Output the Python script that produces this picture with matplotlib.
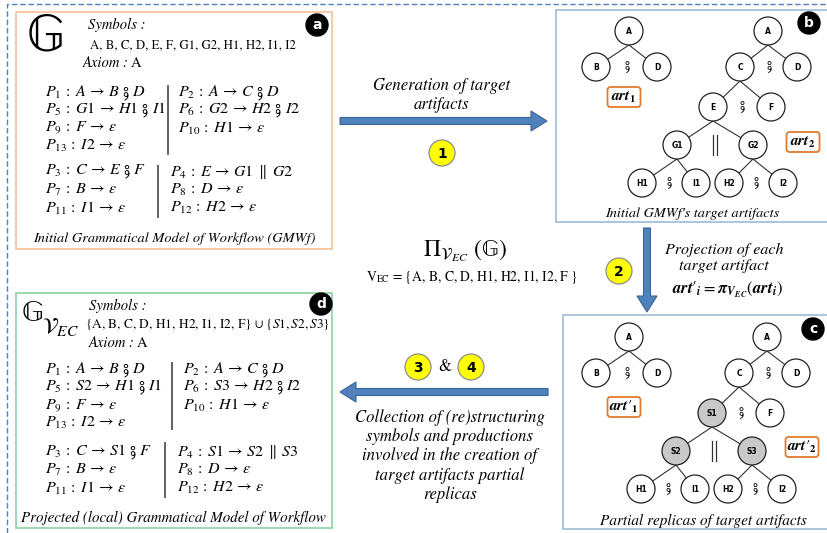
import matplotlib

matplotlib.use("Agg")

import matplotlib.pyplot as plt
from matplotlib.font_manager import FontProperties, findfont
from matplotlib.ft2font import FT2Font
from matplotlib.patches import Circle, FancyArrow, FancyBboxPatch, Rectangle

plt.rcParams["mathtext.fontset"] = "stix"
plt.rcParams["font.family"] = ["STIXGeneral", "DejaVu Sans"]


def has_glyph(family: str, ch: str) -> bool:
    path = findfont(FontProperties(family=family), fallback_to_default=False)
    return FT2Font(path).get_char_index(ord(ch)) != 0


SEQ = "\u2a1f" if has_glyph("STIXGeneral", "\u2a1f") else ";"
BBG = "\U0001D53E"  # double-struck G
PRIME = "\u2032"

# ---- content -------------------------------------------------------------
SYMBOLS_G = "A, B, C, D, E, F, G1, G2, H1, H2, I1, I2"
SYMBOLS_PROJ = r"{A, B, C, D, H1, H2, I1, I2, F} $\cup$ {$S1, S2, S3$}"
V_EC = r"$\mathrm{V}_{\mathrm{EC}}$ = {A, B, C, D, H1, H2, I1, I2, F }"

# productions: (index, left side, right side)
PROD_G_TL = [(1, "A", "B ; D"), (5, "G1", "H1 ; I1"), (9, "F", "eps"), (13, "I2", "eps")]
PROD_G_TR = [(2, "A", "C ; D"), (6, "G2", "H2 ; I2"), (10, "H1", "eps")]
PROD_G_BL = [(3, "C", "E ; F"), (7, "B", "eps"), (11, "I1", "eps")]
PROD_G_BR = [(4, "E", "G1 || G2"), (8, "D", "eps"), (12, "H2", "eps")]

PROD_P_TL = [(1, "A", "B ; D"), (5, "S2", "H1 ; I1"), (9, "F", "eps"), (13, "I2", "eps")]
PROD_P_TR = [(2, "A", "C ; D"), (6, "S3", "H2 ; I2"), (10, "H1", "eps")]
PROD_P_BL = [(3, "C", "S1 ; F"), (7, "B", "eps"), (11, "I1", "eps")]
PROD_P_BR = [(4, "S1", "S2 || S3"), (8, "D", "eps"), (12, "H2", "eps")]

# trees: (node, parent, operator joining its children)
ART1 = [("A", None, "seq"), ("B", "A", None), ("D", "A", None)]
ART2 = [
    ("A", None, "seq"), ("C", "A", "seq"), ("D", "A", None),
    ("E", "C", "par"), ("F", "C", None),
    ("G1", "E", "seq"), ("G2", "E", "seq"),
    ("H1", "G1", None), ("I1", "G1", None), ("H2", "G2", None), ("I2", "G2", None),
]
ART2_PROJ = [
    ("A", None, "seq"), ("C", "A", "seq"), ("D", "A", None),
    ("S1", "C", "par"), ("F", "C", None),
    ("S2", "S1", "seq"), ("S3", "S1", "seq"),
    ("H1", "S2", None), ("I1", "S2", None), ("H2", "S3", None), ("I2", "S3", None),
]
SHADED = {"S1", "S2", "S3"}

# ---- layout (pixels) -----------------------------------------------------
POS_ART1 = [(629, 31), (596, 67), (657, 67)]
POS_ART2 = [(768, 31), (740, 67), (797, 67), (713, 107), (771, 107),
            (677, 145), (753, 145), (642, 183), (696, 183), (729, 183), (783, 183)]
NODE_R = 14
BLUE = "#4f81bd"
BLUE_EDGE = "#3b6596"
SERIF = ["STIXGeneral", "DejaVu Sans"]
SANS = "DejaVu Sans"


def prod_tex(i, lhs, rhs):
    rhs = rhs.replace(" ; ", r"\;" + SEQ + r"\;").replace(" || ", r"\;\parallel\;")
    rhs = rhs.replace("eps", r"\varepsilon")
    return rf"$P_{{{i}}}\,:\;{lhs}\,\rightarrow\,{rhs}$"


def draw_prods(ax, prods, x, y0, dy, size=11.5):
    for k, (i, lhs, rhs) in enumerate(prods):
        ax.text(x, y0 + k * dy, prod_tex(i, lhs, rhs), fontsize=size, va="center", ha="left")


def vline(ax, x, y0, y1):
    ax.plot([x, x], [y0, y1], color="#555555", lw=1.3, solid_capstyle="butt")


def tag(ax, x, y, letter):
    ax.add_patch(Circle((x, y), 11, fc="black", ec="black", zorder=5))
    ax.text(x, y, letter, color="white", fontsize=10, fontweight="bold",
            family=SANS, ha="center", va="center", zorder=6)


def step(ax, x, y, num):
    ax.add_patch(Circle((x, y), 13, fc="#ffff00", ec="#8c8c8c", lw=0.9, zorder=5))
    ax.text(x, y + 0.5, num, fontsize=10, fontweight="bold", family=SANS,
            ha="center", va="center", zorder=6)


def art_box(ax, x, y, tex):
    ax.add_patch(FancyBboxPatch((x - 16.5, y - 10), 33, 20,
                                boxstyle="round,pad=0,rounding_size=3",
                                fc="white", ec="#e07a2e", lw=1.3, zorder=4))
    ax.text(x, y, tex, fontsize=11, ha="center", va="center", zorder=5)


def draw_tree(ax, nodes, pos, dx=0, dy=0):
    xy = {n: (x + dx, y + dy) for (n, _, _), (x, y) in zip(nodes, pos)}
    for n, parent, _ in nodes:
        if parent is None:
            continue
        px, py = xy[parent]
        cx, cy = xy[n]
        ax.plot([px, cx], [py + NODE_R, cy], color="#333333", lw=0.8, zorder=2)
    for n, parent, op in nodes:
        x, y = xy[n]
        fc = "#c9c9c9" if n in SHADED else "white"
        ax.add_patch(Circle((x, y), NODE_R, fc=fc, ec="#222222", lw=0.9, zorder=3))
        ax.text(x, y, n, fontsize=5.5, fontweight="bold", family=SANS,
                ha="center", va="center", zorder=4)
        kids = [xy[k] for k, p, _ in nodes if p == n]
        if op is None or len(kids) != 2:
            continue
        mx = (kids[0][0] + kids[1][0]) / 2
        my = (kids[0][1] + kids[1][1]) / 2
        if op == "seq":
            ax.text(mx, my, SEQ, fontsize=10, family=SERIF, ha="center", va="center", zorder=4)
        else:
            for off in (-2, 2):
                ax.plot([mx + off, mx + off], [my - 10, my + 10], color="#333333", lw=0.9)


fig = plt.figure(figsize=(8.27, 5.33), dpi=100)
ax = fig.add_axes([0, 0, 1, 1])
ax.set_xlim(0, 827)
ax.set_ylim(533, 0)
ax.axis("off")

# outer dashed frame
ax.plot([7, 7, 827], [533, 4, 4], color=BLUE, lw=1.0, linestyle=(0, (4, 2)))

# ---- panel a ---------------------------------------------------------------
ax.add_patch(Rectangle((16, 12), 316, 237, fc="white", ec="#f2c29b", lw=1.2))
tag(ax, 317, 25, "a")
ax.text(45, 38, BBG, fontsize=38, family=SERIF, ha="center", va="center")
ax.text(88, 25, "Symbols :", fontsize=10.5, style="italic", va="center")
ax.text(90, 45, SYMBOLS_G, fontsize=9.2, va="center")
ax.text(83, 63, "Axiom :", fontsize=10.5, style="italic", va="center")
ax.text(131, 63, "A", fontsize=10.5, va="center")
draw_prods(ax, PROD_G_TL, 45, 93, 17.5)
draw_prods(ax, PROD_G_TR, 178, 93, 17.5)
vline(ax, 168, 85, 155)
draw_prods(ax, PROD_G_BL, 45, 172, 18)
draw_prods(ax, PROD_G_BR, 170, 172, 18)
vline(ax, 158, 165, 218)
ax.text(174, 239, "Initial Grammatical Model of Workflow (GMWf)", fontsize=10.4,
        style="italic", ha="center", va="center")

# ---- panel d ---------------------------------------------------------------
ax.add_patch(Rectangle((16, 293), 316, 235, fc="white", ec="#86d4a6", lw=1.2))
tag(ax, 321, 304, "d")
ax.text(32, 314, BBG, fontsize=22, family=SERIF, ha="center", va="center")
ax.text(42, 327, r"$\mathcal{V}_{EC}$", fontsize=16, ha="left", va="center")
ax.text(89, 306, "Symbols :", fontsize=10.5, style="italic", va="center")
ax.text(85, 324, SYMBOLS_PROJ, fontsize=9.6, va="center")
ax.text(89, 343, "Axiom :", fontsize=10.5, style="italic", va="center")
ax.text(137, 343, "A", fontsize=10.5, va="center")
draw_prods(ax, PROD_P_TL, 45, 370, 17.7)
draw_prods(ax, PROD_P_TR, 183, 370, 17.7)
vline(ax, 172, 362, 430)
draw_prods(ax, PROD_P_BL, 45, 452, 18)
draw_prods(ax, PROD_P_BR, 177, 452, 18)
vline(ax, 165, 442, 498)
ax.text(173, 518, "Projected (local) Grammatical Model of Workflow", fontsize=10.8,
        style="italic", ha="center", va="center")

# ---- panel b ---------------------------------------------------------------
ax.add_patch(Rectangle((556, 10), 280, 212, fc="white", ec="#9dbbd6", lw=1.2))
tag(ax, 809, 23, "b")
draw_tree(ax, ART1, POS_ART1)
draw_tree(ax, ART2, POS_ART2)
art_box(ax, 624, 97, r"$\mathbfit{art}_{\mathbf{1}}$")
art_box(ax, 803, 142, r"$\mathbfit{art}_{\mathbf{2}}$")
ax.text(692, 214, "Initial GMWf's target artifacts", fontsize=10.3, style="italic",
        ha="center", va="center")

# ---- panel c ---------------------------------------------------------------
ax.add_patch(Rectangle((563, 315), 280, 214, fc="white", ec="#9dbbd6", lw=1.2))
tag(ax, 813, 329, "c")
draw_tree(ax, ART1, POS_ART1, 0, 306)
draw_tree(ax, ART2_PROJ, POS_ART2, -1, 306)
art_box(ax, 624, 407, r"$\mathbfit{art}" + PRIME + r"_{\mathbf{1}}$")
art_box(ax, 802, 447, r"$\mathbfit{art}" + PRIME + r"_{\mathbf{2}}$")
ax.text(703, 521, "Partial replicas of target artifacts", fontsize=11, style="italic",
        ha="center", va="center")

# ---- arrows and middle annotations ----------------------------------------
arrow_kw = dict(width=7, head_width=20, head_length=16, length_includes_head=True,
                fc=BLUE, ec=BLUE_EDGE, lw=0.8, zorder=3)
ax.add_patch(FancyArrow(340, 121, 207, 0, **arrow_kw))
ax.text(442, 95, "Generation of target\nartifacts", fontsize=12, style="italic",
        ha="center", va="center", linespacing=1.15)
step(ax, 442, 153, "1")

ax.add_patch(FancyArrow(647, 228, 0, 84, **arrow_kw))
step(ax, 619, 271, "2")
ax.text(724, 258, "Projection of each\ntarget artifact", fontsize=11.5, style="italic",
        ha="center", va="center", linespacing=1.15)
ax.text(727, 290,
        r"$\mathbfit{art}" + PRIME + r"_{\mathbfit{i}} = \mathbfit{\pi}_{\mathbfit{V}_{\mathbfit{EC}}}"
        r"(\mathbfit{art}_{\mathbfit{i}})$",
        fontsize=12, ha="center", va="center")

ax.text(465, 251, r"$\Pi_{\mathcal{V}_{EC}}$ (" + BBG + ")", fontsize=17,
        ha="center", va="center")
ax.text(472, 277, V_EC, fontsize=9.8, ha="center", va="center")

ax.add_patch(FancyArrow(548, 392, -208, 0, **arrow_kw))
step(ax, 418, 367, "3")
ax.text(445, 367, "&", fontsize=12, ha="center", va="center")
step(ax, 471, 367, "4")
ax.text(450, 456,
        "Collection of (re)structuring\nsymbols and productions\ninvolved in the creation of\n"
        "target artifacts partial\nreplicas",
        fontsize=12, style="italic", ha="center", va="center", linespacing=1.2)

fig.savefig("out.png", dpi=100)
